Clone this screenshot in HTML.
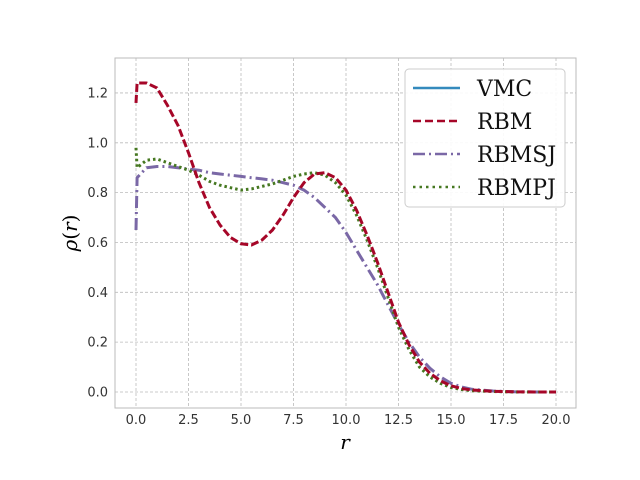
<!DOCTYPE html>
<html><head><meta charset="utf-8"><style>
body{margin:0;background:#fff}
svg{display:block}
.tk{font-family:"DejaVu Sans","Liberation Sans",sans-serif;font-size:13px;fill:#333}
.lg{font-family:"DejaVu Serif","Liberation Serif",serif;font-size:22px;fill:#111}
</style></head><body>
<svg id="c" width="640" height="480" xmlns="http://www.w3.org/2000/svg">
<rect width="640" height="480" fill="#fff"/>
<g id="grid"></g>
<g id="series"></g>
<rect x="115" y="58" width="461" height="350" fill="none" stroke="#bbb" stroke-width="1"/>
<g id="ticks"></g>
<text x="345" y="449" text-anchor="middle" font-family="DejaVu Serif,Liberation Serif,serif" font-style="italic" font-size="20">r</text>
<text transform="translate(77,233) rotate(-90)" text-anchor="middle" font-family="DejaVu Serif,Liberation Serif,serif" font-size="20"><tspan font-style="italic">ρ</tspan>(<tspan font-style="italic">r</tspan>)</text>
<g>
<rect x="405" y="69" width="160" height="138" rx="4" fill="#fff" fill-opacity="0.9" stroke="#ccc"/>
<line x1="413" y1="88" x2="460" y2="88" stroke="#348ABD" stroke-width="2.5"/>
<text class="lg" x="477" y="96">VMC</text>
<line x1="413" y1="121" x2="460" y2="121" stroke="#A60628" stroke-width="2.5" stroke-dasharray="8,4"/>
<text class="lg" x="477" y="129">RBM</text>
<line x1="413" y1="154" x2="460" y2="154" stroke="#7A68A6" stroke-width="2.5" stroke-dasharray="12,4,2,4"/>
<text class="lg" x="477" y="162">RBMSJ</text>
<line x1="413" y1="187" x2="460" y2="187" stroke="#467821" stroke-width="2.5" stroke-dasharray="2.5,4"/>
<text class="lg" x="477" y="195">RBMPJ</text>
</g>
</svg>
<script>
const rVals=[0,0.05,0.5,1,1.5,2,2.5,3,3.5,4,4.5,5,5.5,6,6.5,7,7.5,8,8.5,9,9.5,10,10.5,11,11.5,12,12.5,13,13.5,14,14.5,15,15.5,16,17,18,19,20];
const rbm=[1.16,1.24,1.24,1.22,1.15,1.07,0.96,0.84,0.74,0.67,0.62,0.595,0.59,0.61,0.65,0.71,0.78,0.84,0.875,0.88,0.86,0.81,0.73,0.63,0.52,0.40,0.28,0.19,0.12,0.075,0.045,0.025,0.014,0.008,0.003,0.001,0,0];
const rbmsj=[0.65,0.86,0.90,0.905,0.905,0.90,0.895,0.89,0.88,0.875,0.87,0.865,0.86,0.855,0.85,0.84,0.83,0.81,0.78,0.74,0.70,0.64,0.57,0.50,0.43,0.35,0.27,0.20,0.14,0.095,0.06,0.035,0.02,0.011,0.004,0.001,0,0];
const rbmpj=[0.98,0.90,0.93,0.935,0.92,0.905,0.89,0.87,0.845,0.83,0.82,0.81,0.815,0.825,0.835,0.85,0.865,0.875,0.88,0.87,0.84,0.79,0.71,0.61,0.50,0.38,0.26,0.17,0.10,0.06,0.035,0.018,0.01,0.005,0.002,0,0,0];
const xTicks=[0,2.5,5,7.5,10,12.5,15,17.5,20];
const yTicks=[0,0.2,0.4,0.6,0.8,1.0,1.2];
const X=v=>136+v*21, Y=v=>392-v*249.2;
const NS='http://www.w3.org/2000/svg';
const grid=document.getElementById('grid'),ticks=document.getElementById('ticks'),ser=document.getElementById('series');
function mk(tag,at,parent){const e=document.createElementNS(NS,tag);for(const k in at)e.setAttribute(k,at[k]);parent.appendChild(e);return e;}
xTicks.forEach(t=>{
 const g=mk('line',{x1:X(t),x2:X(t),y1:58,y2:408,stroke:'#bbb','stroke-dasharray':'3,2','stroke-width':0.8},grid);
 
 
 const tl=mk('text',{x:X(t),y:424,'text-anchor':'middle',class:'tk'},ticks);tl.textContent=t.toFixed(1);
 
 
});
yTicks.forEach(t=>{
 const g=mk('line',{x1:115,x2:576,y1:Y(t),y2:Y(t),stroke:'#bbb','stroke-dasharray':'3,2','stroke-width':0.8},grid);
 
 
 const tl=mk('text',{x:108,y:Y(t)+4.5,'text-anchor':'end',class:'tk'},ticks);tl.textContent=t.toFixed(1);
 
 
});
function line(vals,color,dash,name){
 const d=vals.map((v,i)=>(i?'L':'M')+X(rVals[i]).toFixed(1)+','+Y(v).toFixed(1)).join(' ');
 const p=mk('path',{d:d,fill:'none',stroke:color,'stroke-width':3,'stroke-dasharray':dash,'stroke-linejoin':'round'},ser);
 
 
}
line(rbmsj,'#7A68A6','12,4,2,4','rbmsj-line');
line(rbmpj,'#467821','2.5,3','rbmpj-line');
line(rbm,'#A60628','8,3','rbm-line');
</script>
</body></html>
